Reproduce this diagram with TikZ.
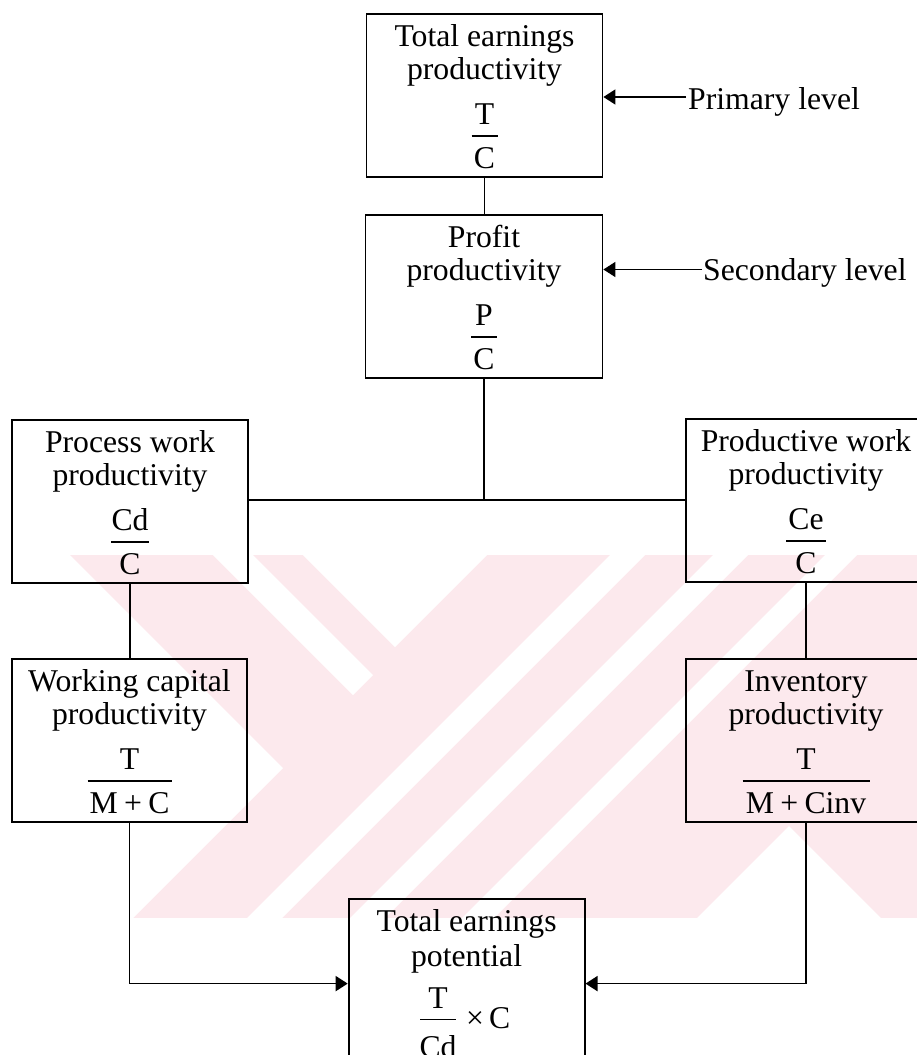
\documentclass[tikz,border=0pt]{standalone}
\usepackage{fontspec}
\setmainfont{Liberation Serif}
\usetikzlibrary{arrows.meta}
\definecolor{wmpink}{RGB}{252,233,237}

% plus sign with medium spacing
\newcommand\pls{\hspace{0.2em}+\hspace{0.2em}}

% a ratio box: name, centre x, top y, width, line 1, line 2, numerator, denominator, bar width
\newcommand\ratiobox[9]{%
  \node[blk, minimum width=#4pt] (#1) at (#2,#3) {};
  \node[lbl] (#1-l1)  at (#2,#3+33)   {#5};
  \node[lbl] (#1-l2)  at (#2,#3+66.5) {#6};
  \node[lbl] (#1-num) at (#2,#3+111)  {#7};
  \draw[bar] (#2-#9/2,#3+123) -- (#2+#9/2,#3+123);
  \node[lbl] (#1-den) at (#2,#3+155)  {#8};
}

\begin{document}
\begin{tikzpicture}[x=1pt,y=-1pt,
  blk/.style={draw=black, line width=1.8pt, minimum height=163pt,
              inner sep=0pt, anchor=north},
  lbl/.style={font=\fontsize{31.7}{34}\selectfont, inner sep=0pt, anchor=base},
  link/.style={draw=black, line width=1.6pt},
  arr/.style={link, -{Triangle[length=12pt,width=15pt]}},
  bar/.style={draw=black, line width=1.5pt}]

\useasboundingbox[fill=white] (0,0) rectangle (917,1055);

% light background stripe pattern
\begin{scope}
  \fill[wmpink] (0,555) rectangle (917,918);
  \fill[white] (0,555) -- (70,555) -- (283,768) -- (133,918) -- (0,918) -- cycle;
  \fill[white] (213,555) -- (253,555) -- (373,675) -- (353,695) -- cycle;
  \fill[white] (303,555) -- (487,555) -- (395,647) -- cycle;
  \fill[white] (610,555) -- (645,555) -- (282,918) -- (247,918) -- cycle;
  \fill[white] (713,555) -- (748,555) -- (385,918) -- (350,918) -- cycle;
  \fill[white] (825,555) -- (857,555) -- (494,918) -- (462,918) -- cycle;
  \fill[white] (697,918) -- (789,826) -- (881,918) -- cycle;
\end{scope}

% boxes
\ratiobox{tep}{484.5}{13}{236}{Total earnings}{productivity}{T}{C}{26}
\ratiobox{pp}{484}{214}{237}{Profit}{productivity}{P}{C}{26}
\ratiobox{pw}{130}{419}{236}{Process work}{productivity}{Cd}{C}{38}
\ratiobox{pdw}{806}{418}{240}{Productive work}{productivity}{Ce}{C}{40}
\ratiobox{wc}{129.5}{658}{235}{Working capital}{productivity}{T}{M\pls C}{84}
\ratiobox{inv}{806}{658}{240}{Inventory}{productivity}{T}{M\pls Cinv}{127}

% bottom box
\node[blk, minimum width=236pt] (tpot) at (466.6,898) {};
\node[lbl] (tpot-l1) at (466.6,931) {Total earnings};
\node[lbl] (tpot-l2) at (466.6,966) {potential};
\node[lbl] (tpot-num) at (438,1008) {T};
\draw[bar] (420,1019.5) -- (456,1019.5);
\node[lbl] (tpot-den) at (438,1057) {Cd};
\node[lbl, anchor=base west] (tpot-x) at (466,1028) {×\hspace{5pt}C};

% level labels
\node[lbl, anchor=base west] (prim) at (688,109) {Primary level};
\node[lbl, anchor=base west] (sec) at (703,280) {Secondary level};
\coordinate (primend) at (686,97);
\coordinate (secend) at (702,269.5);
\draw[arr] (primend) -- (primend -| tep.east);
\draw[arr] (secend) -- (secend -| pp.east);

% connectors
\coordinate (jn) at (484,500);
\draw[link] (tep.south) -- (tep.south |- pp.north);
\draw[link] (pp.south) -- (jn);
\draw[link] (pw.east |- jn) -- (pdw.west |- jn);
\draw[link] (pw.south) -- (pw.south |- wc.north);
\draw[link] (pdw.south) -- (pdw.south |- inv.north);
\draw[arr] (wc.south) |- ([yshift=-3.2pt]tpot.west);
\draw[arr] (inv.south) |- ([yshift=-3.2pt]tpot.east);

\end{tikzpicture}
\end{document}
